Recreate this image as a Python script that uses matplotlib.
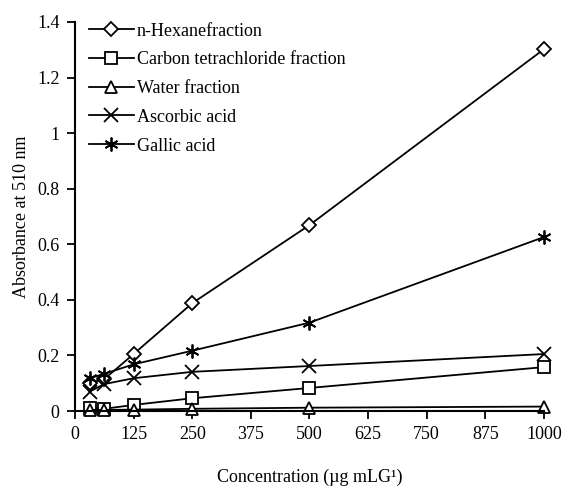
import matplotlib
matplotlib.use('Agg')
import matplotlib.pyplot as plt

plt.rcParams['font.family'] = ['Liberation Serif', 'DejaVu Serif']
plt.rcParams['font.size'] = 13

conc = [31.25, 62.5, 125, 250, 500, 1000]
hexane = [0.10, 0.115, 0.205, 0.388, 0.669, 1.302]
carbon_tet = [0.012, 0.008, 0.022, 0.046, 0.083, 0.158]
water = [0.004, 0.004, 0.005, 0.008, 0.012, 0.016]
ascorbic = [0.07, 0.097, 0.118, 0.141, 0.162, 0.205]
gallic = [0.118, 0.134, 0.168, 0.217, 0.318, 0.626]

xticks = [0, 125, 250, 375, 500, 625, 750, 875, 1000]
yticks = [0, 0.2, 0.4, 0.6, 0.8, 1.0, 1.2, 1.4]
ytick_labels = ['0', '0.2', '0.4', '0.6', '0.8', '1', '1.2', '1.4']

fg = plt.figure(figsize=(5.63, 4.87), dpi=100)
ax = fg.add_axes([0.1332, 0.156, 0.833, 0.799])

mk = dict(color='black', linewidth=1.3, markersize=8.5, markerfacecolor='white',
          markeredgecolor='black', markeredgewidth=1.3, clip_on=False)
ax.plot(conc, hexane, marker='D', label='n-Hexanefraction', **{**mk, 'markersize': 7})
ax.plot(conc, carbon_tet, marker='s', label='Carbon tetrachloride fraction', **mk)
ax.plot(conc, water, marker='^', label='Water fraction', **mk)
ax.plot(conc, ascorbic, marker='x', label='Ascorbic acid', **{**mk, 'markersize': 9.5})
ax.plot(conc, gallic, marker=(6, 2, 0), label='Gallic acid', **{**mk, 'markersize': 10})

ax.set_xlim(0, 1000)
ax.set_ylim(0, 1.4)
ax.set_xticks(xticks)
ax.set_yticks(yticks)
ax.set_yticklabels(ytick_labels)
ax.tick_params(direction='out', length=6, width=1.3, color='black', pad=5)
ax.spines['top'].set_visible(False)
ax.spines['right'].set_visible(False)
ax.spines['left'].set_linewidth(1.5)
ax.spines['bottom'].set_linewidth(1.5)

ax.set_xlabel('Concentration (µg mLG¹)', labelpad=18)
ax.set_ylabel('Absorbance at 510 nm', labelpad=5)

ax.legend(loc='upper left', bbox_to_anchor=(-0.005, 1.04), frameon=False,
          handlelength=2.5, handletextpad=0.15, labelspacing=0.65)

fg.savefig('out.png', dpi=100)
